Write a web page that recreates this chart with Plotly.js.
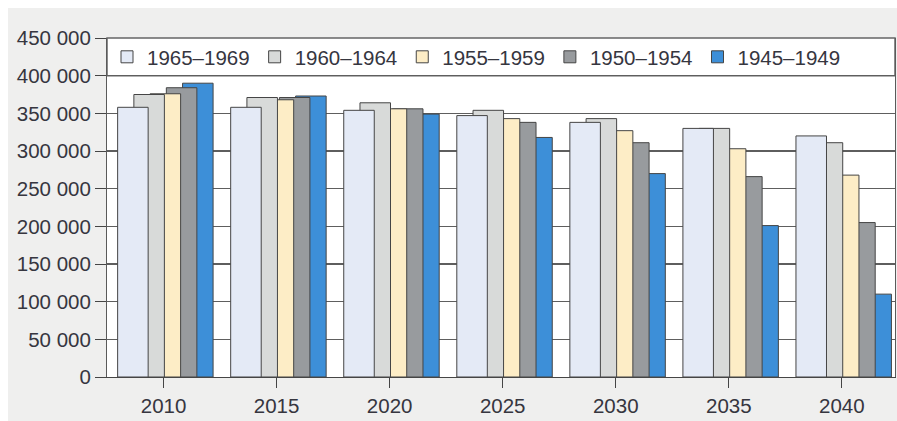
<!DOCTYPE html>
<html>
<head>
<meta charset="utf-8">
<script src="https://cdn.plot.ly/plotly-3.0.1.min.js"></script>
<style>
  html, body { margin: 0; padding: 0; background: #ffffff; overflow: hidden; }
  #chart { position: absolute; left: 8px; top: 8px; width: 889px; height: 413px; }
</style>
</head>
<body>
<div id="chart"></div>
<script>
// Data
const years = [2010, 2015, 2020, 2025, 2030, 2035, 2040];
const tickLabels = ["2010", "2015", "2020", "2025", "2030", "2035", "2040"];
const seriesNames = ["1965–1969", "1960–1964", "1955–1959", "1950–1954", "1945–1949"];
const s1965_1969 = [358000, 358000, 354000, 347000, 338000, 330000, 320000];
const s1960_1964 = [375000, 371000, 364000, 354000, 343000, 330000, 311000];
const s1955_1959 = [376000, 368000, 356000, 343000, 327000, 303000, 268000];
const s1950_1954 = [384000, 371000, 356000, 338000, 311000, 266000, 205000];
const s1945_1949 = [390000, 373000, 349000, 318000, 270000, 201000, 110000];

const seriesValues = [s1965_1969, s1960_1964, s1955_1959, s1950_1954, s1945_1949];
const colors = ["#e4eaf6", "#d8dad9", "#fdedc6", "#989b9e", "#3d8fd8"];

// bar geometry (data units: years)
const barWidth = 1.35;
const firstOffset = -2.03;
const step = 0.718;

const traces = [];
// back-most first so the 1965–1969 bars sit in front
for (let i = seriesNames.length - 1; i >= 0; i--) {
  traces.push({
    type: "bar",
    name: seriesNames[i],
    x: years,
    y: seriesValues[i],
    width: barWidth,
    offset: firstOffset + i * step,
    marker: { color: colors[i], line: { color: "#454545", width: 1 } },
    hoverinfo: "x+y+name"
  });
}

const fontFam = "'Liberation Sans', Arial, sans-serif";
const textColor = "#36363f";

const layout = {
  width: 889,
  height: 413,
  margin: { l: 99, r: 2, t: 30, b: 44, pad: 0 },
  paper_bgcolor: "#efefee",
  plot_bgcolor: "#ffffff",
  barmode: "overlay",
  separators: ", ",
  showlegend: true,
  legend: {
    orientation: "h",
    traceorder: "reversed",
    x: 0,
    xanchor: "left",
    y: 0.944,
    yanchor: "middle",
    bgcolor: "rgba(0,0,0,0)",
    font: { family: fontFam, size: 20.5, color: textColor },
    itemwidth: 30,
    itemclick: false
  },
  xaxis: {
    type: "linear",
    range: [2007.5, 2042.35],
    tickvals: years,
    ticktext: tickLabels,
    ticks: "outside",
    ticklen: 10,
    tickcolor: "#454545",
    tickwidth: 1,
    showline: true,
    linecolor: "#454545",
    linewidth: 1,
    showgrid: false,
    zeroline: false,
    tickfont: { family: fontFam, size: 20.5, color: textColor },
    fixedrange: true
  },
  yaxis: {
    range: [0, 450000],
    tickvals: [0, 50000, 100000, 150000, 200000, 250000, 300000, 350000, 400000, 450000],
    tickformat: ",d",
    ticks: "outside",
    ticklen: 11,
    tickcolor: "#454545",
    showline: true,
    mirror: true,
    linecolor: "#5a5a5a",
    linewidth: 1,
    showgrid: true,
    gridcolor: "#5e5e5e",
    gridwidth: 1.2,
    zeroline: false,
    tickfont: { family: fontFam, size: 20.5, color: textColor },
    fixedrange: true
  },
  shapes: [{
    type: "rect",
    xref: "paper", yref: "paper",
    x0: 0, x1: 1, y0: 400000 / 450000, y1: 1,
    fillcolor: "#ffffff",
    line: { color: "#666666", width: 1.5 },
    layer: "below"
  }]
};

Plotly.newPlot("chart", traces, layout, { displayModeBar: false, staticPlot: true });
</script>
</body>
</html>
